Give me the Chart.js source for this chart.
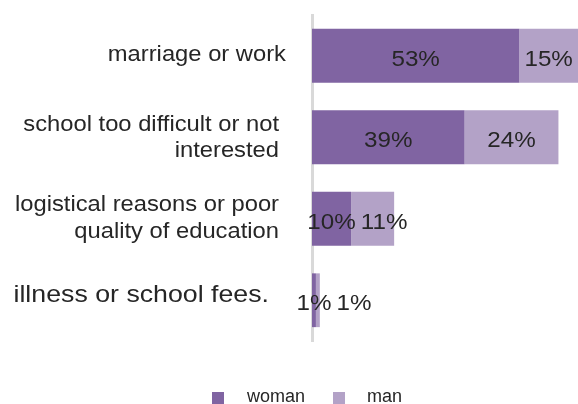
<!DOCTYPE html>
<html>
<head>
<meta charset="utf-8">
<title>reasons</title>
<script src="https://cdn.jsdelivr.net/npm/chart.js@4.4.1/dist/chart.umd.min.js"></script>
<style>
    html, body { margin: 0; padding: 0; background: #fff; }
    #wrap { width: 578px; height: 404px; position: relative; }
</style>
</head>
<body>
<div id="wrap"><canvas id="myChart"></canvas></div>
<script>
// categories (one entry per line of the label)
var categories = [
    ['marriage or work'],
    ['school too difficult or not', 'interested'],
    ['logistical reasons or poor', 'quality of education'],
    ['illness or school fees.']
];
var seriesNames = ['woman', 'man'];
var woman = [53, 39, 10, 1];
var man = [15, 24, 11, 1];

var darkPurple = '#8064a2';
var lightPurple = '#b3a2c7';
var textColor = '#262626';
var FONT = 'Arial, "Liberation Sans", sans-serif';

// draw text slightly stretched horizontally, like the original
function drawText(ctx, txt, x, y, align, size, stretch) {
    ctx.save();
    ctx.translate(x, y);
    ctx.scale(stretch, 1);
    ctx.font = size + 'px ' + FONT;
    ctx.textAlign = align;
    ctx.textBaseline = 'alphabetic';
    ctx.fillStyle = textColor;
    ctx.fillText(txt, 0, 0);
    ctx.restore();
}

var labelsPlugin = {
    id: 'labelsPlugin',
    afterDraw: function (chart) {
        var ctx = chart.ctx;
        var yScale = chart.scales.y;
        var left = chart.chartArea.left;

        // category labels
        var rightGap = [26, 33, 33, 43];
        var sizes = [21.6, 21.6, 21.6, 24.3];
        var shift = [0, 1, 0, -5];
        for (var i = 0; i < categories.length; i++) {
            var lines = categories[i];
            var cy = yScale.getPixelForValue(i) + shift[i];
            var lh = 26.5;
            var first = cy - (lines.length - 1) * lh / 2;
            for (var j = 0; j < lines.length; j++) {
                var xh = sizes[i] * 0.26;
                drawText(ctx, lines[j], left - rightGap[i], first + j * lh + xh, 'right', sizes[i], 1.1);
            }
        }

        // value labels, centred in each piece, pushed right if they would overlap
        var size = 22, stretch = 1.1;
        ctx.font = size + 'px ' + FONT;
        for (var k = 0; k < categories.length; k++) {
            var prevEnd = -Infinity;
            for (var d = 0; d < chart.data.datasets.length; d++) {
                var bar = chart.getDatasetMeta(d).data[k];
                var val = chart.data.datasets[d].data[k];
                var txt = val + '%';
                ctx.font = size + 'px ' + FONT;
                var w = ctx.measureText(txt).width * stretch;
                var cx = (bar.x + bar.base) / 2;
                var x0 = cx - w / 2;
                if (x0 < prevEnd) x0 = prevEnd + 5;
                drawText(ctx, txt, x0, bar.y + 10, 'left', size, stretch);
                prevEnd = x0 + w;
            }
        }

        // legend
        var items = [
            { box: 212, text: 247, color: darkPurple },
            { box: 333, text: 367, color: lightPurple }
        ];
        for (var n = 0; n < items.length; n++) {
            ctx.fillStyle = items[n].color;
            ctx.fillRect(items[n].box, 392, 12, 12);
            drawText(ctx, seriesNames[n], items[n].text, 402, 'left', 18, 1.0);
        }
    }
};

var chart = new Chart(document.getElementById('myChart'), {
    type: 'bar',
    data: {
        labels: categories,
        datasets: [{
            label: seriesNames[0],
            data: woman,
            backgroundColor: darkPurple,
            barPercentage: 0.66,
            categoryPercentage: 1
        }, {
            label: seriesNames[1],
            data: man,
            backgroundColor: lightPurple,
            barPercentage: 0.66,
            categoryPercentage: 1
        }]
    },
    options: {
        indexAxis: 'y',
        responsive: true,
        maintainAspectRatio: false,
        animation: false,
        layout: { padding: { left: 304, top: 15, bottom: 63, right: 0 } },
        plugins: {
            legend: { display: false },
            tooltip: { enabled: false }
        },
        scales: {
            x: { stacked: true, display: false, min: 0, max: 68 },
            y: {
                stacked: true,
                ticks: { display: false },
                grid: { display: false },
                border: { display: true, color: '#d9d9d9', width: 3 }
            }
        }
    },
    plugins: [labelsPlugin]
});
</script>
</body>
</html>
